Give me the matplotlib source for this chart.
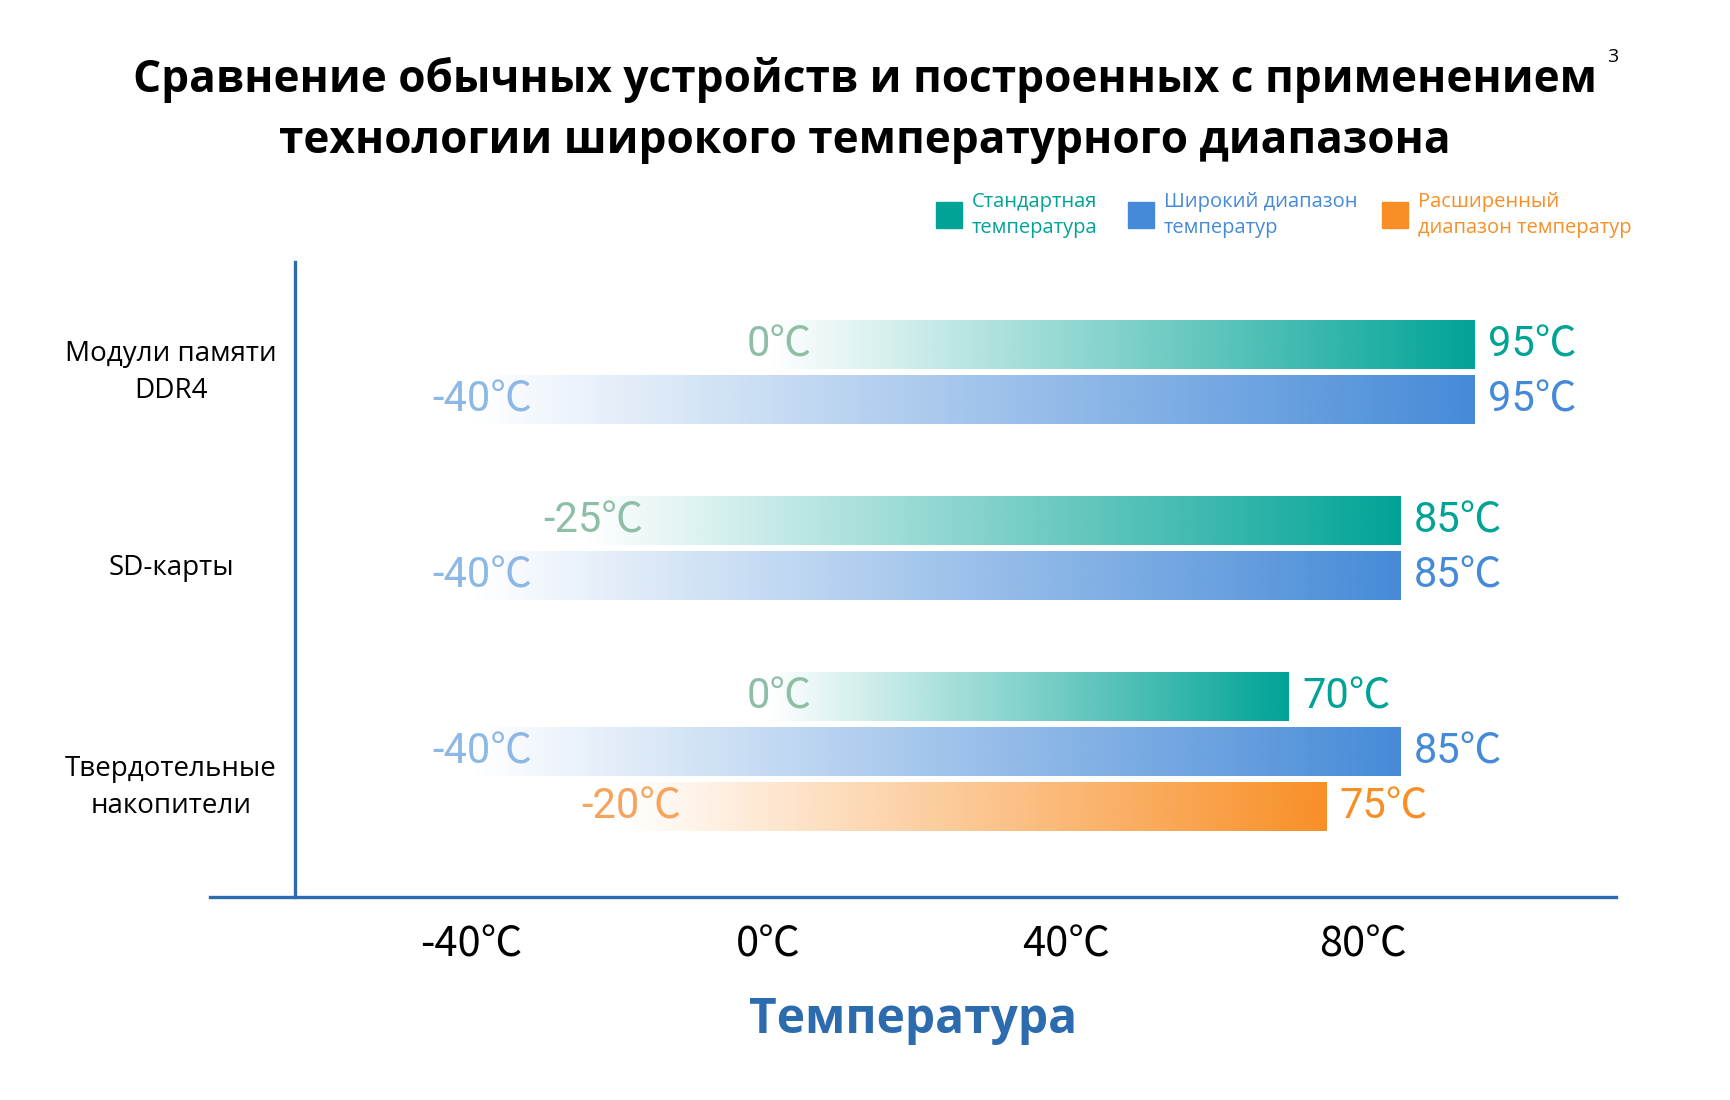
import numpy as np
import matplotlib.pyplot as plt
import matplotlib.transforms as mtransforms
from matplotlib.colors import to_rgb
from matplotlib.patches import Rectangle

# ----------------------------------------
# Data (temperature ranges, deg C)
categories = ['Модули памяти\nDDR4', 'SD-карты', 'Твердотельные\nнакопители']
series_names = ['Стандартная\nтемпература', 'Широкий диапазон\nтемператур',
                'Расширенный\nдиапазон температур']
std_min = [0, -25, 0]
std_max = [95, 85, 70]
wide_min = [-40, -40, -40]
wide_max = [95, 85, 85]
ext_min = [None, None, -20]
ext_max = [None, None, 75]
xticks = [-40, 0, 40, 80]

# ----------------------------------------
# Styles
colors = ['#00a396', '#458ad8', '#f88f26']
start_colors = ['#8fbea6', '#8db8e6', '#f6a35c']
axis_blue = '#2c6cae'
num_font = ['Roboto', 'Noto Sans CJK SC', 'DejaVu Sans']
tick_font = ['Liberation Sans Narrow', 'Noto Sans CJK SC', 'DejaVu Sans']
text_font = ['Open Sans', 'DejaVu Sans']

mins = [std_min, wide_min, ext_min]
maxs = [std_max, wide_max, ext_max]

fig = plt.figure(figsize=(17.3, 11), dpi=100)
ax = fig.add_axes([210 / 1730, 1 - 897 / 1100, 1406 / 1730, 635 / 1100])

# row layout: one row per bar, gap between categories
bar_h = 0.88
gap = 1.2
label_shift = [0.0, 0.35, 0.65]
rows = []
row = 0.0
for i in range(len(categories)):
    for s in range(3):
        if mins[s][i] is None:
            continue
        rows.append((i, s, row))
        row += 1
    row += gap

for i, s, y in rows:
    lo, hi = mins[s][i], maxs[s][i]
    grad = np.zeros((1, 256, 4))
    grad[..., :3] = to_rgb(colors[s])
    grad[..., 3] = np.linspace(0, 1, 256)
    ax.imshow(grad, extent=(lo, hi, y + bar_h / 2, y - bar_h / 2),
              aspect='auto', interpolation='bilinear', zorder=2)
    ax.text(lo + 1.5, y, f'{lo}℃', color=start_colors[s], ha='center', va='center',
            fontsize=30, family=num_font, zorder=3)
    ax.text(hi + 1.8, y, f'{hi}℃', color=colors[s], ha='left', va='center',
            fontsize=30, family=num_font, zorder=3)

ax.set_xlim(-75.1, 114.0)
ax.set_ylim(10.04, -1.51)

# category labels
trans = mtransforms.blended_transform_factory(fig.transFigure, ax.transData)
for i, name in enumerate(categories):
    ys = [y for c, s, y in rows if c == i]
    ax.text(171 / 1730, np.mean(ys) + label_shift[i], name, transform=trans,
            ha='center', va='center', fontsize=20, family=text_font,
            linespacing=1.45, clip_on=False)

# axes lines
for side in ['top', 'right']:
    ax.spines[side].set_visible(False)
ax.spines['left'].set_position(('data', -63.7))
for side in ['left', 'bottom']:
    ax.spines[side].set_color(axis_blue)
    ax.spines[side].set_linewidth(2.4)
ax.set_yticks([])
ax.set_xticks(xticks)
ax.set_xticklabels([f'{t}℃' for t in xticks], family=tick_font, fontsize=30)
ax.tick_params(axis='x', length=0, pad=20)
ax.set_xlabel('Температура', fontsize=34.5, fontweight='bold', color=axis_blue,
              family=text_font, labelpad=22)

# title
fig.text(0.5, 1 - 80 / 1100, 'Сравнение обычных устройств и построенных с применением',
         ha='center', va='center', fontsize=31.8, fontweight='bold', family=text_font)
fig.text(0.5, 1 - 141 / 1100, 'технологии широкого температурного диапазона',
         ha='center', va='center', fontsize=31.8, fontweight='bold', family=text_font)
fig.text(1613 / 1730, 1 - 57 / 1100, '3', ha='center', va='center', fontsize=14,
         family=text_font)

# legend
sq_x = [936, 1128, 1382]
for s in range(3):
    fig.patches.append(Rectangle((sq_x[s] / 1730, 1 - 228 / 1100), 26 / 1730, 26 / 1100,
                                 transform=fig.transFigure, color=colors[s]))
    fig.text((sq_x[s] + 36) / 1730, 1 - 215 / 1100, series_names[s], color=colors[s],
             ha='left', va='center', fontsize=14.5, family=text_font, linespacing=1.45)

fig.savefig('out.png', dpi=100, facecolor='white')
